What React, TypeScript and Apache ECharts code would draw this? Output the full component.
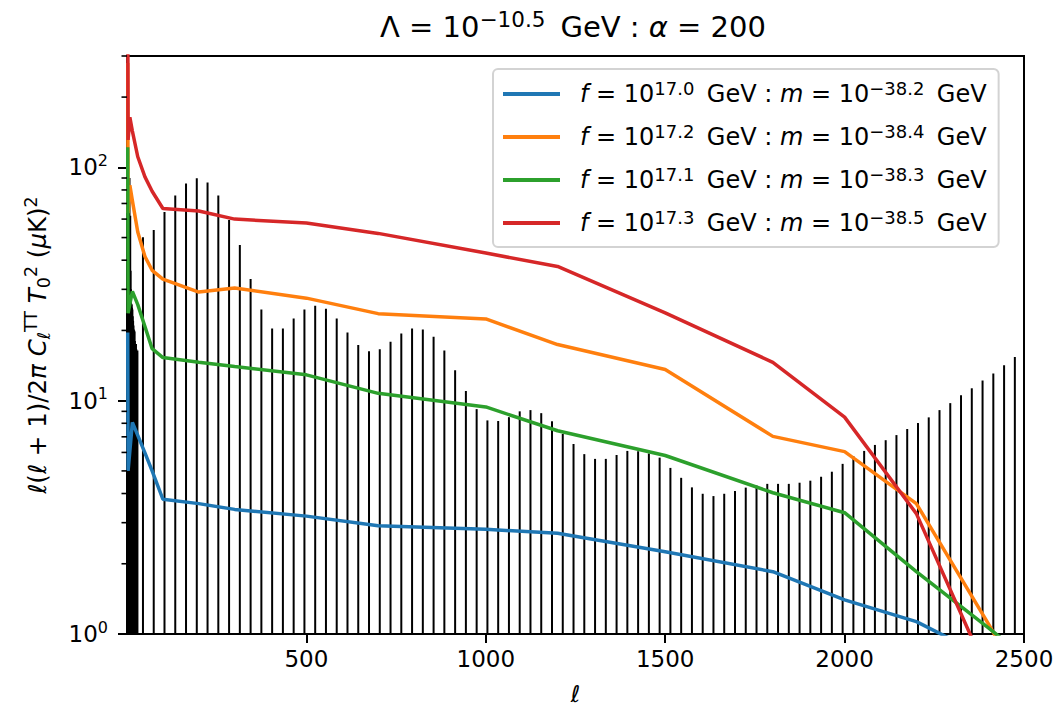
import React, { useEffect, useRef } from "react";
import * as echarts from "echarts";

const FONT = "DejaVu Sans";

// Model curves (shared multipole grid)
const ELL_GRID = [2, 3, 8, 15, 30, 50, 70, 100, 200, 300, 500, 700, 1000, 1200, 1500, 1800, 2000, 2200, 2400, 2500];
const BLUE = [19.6, 5.0, 6.1, 8.07, 7.1, 5.97, 5.0, 3.78, 3.62, 3.42, 3.2, 2.91, 2.81, 2.7, 2.25, 1.85, 1.4, 1.13, 0.79, 0.65];
const ORANGE = [280, 63.7, 83.8, 72, 52.8, 41.5, 36.2, 33.2, 29.2, 30.4, 27.5, 23.6, 22.4, 17.4, 13.6, 7.03, 6.05, 3.62, 1.11, 0.6];
const GREEN = [122, 23.7, 26, 29.4, 25.8, 20.8, 16.7, 15.3, 14.6, 14.0, 12.9, 10.75, 9.4, 7.43, 5.82, 4.03, 3.31, 1.85, 1.066, 0.8];
const RED = [650, 131, 164, 143, 111, 91, 79, 66.6, 65, 60, 57.7, 52.1, 42.9, 37.6, 23.8, 14.6, 8.5, 3.28, 0.67, 0.3];

const CURVE_COLORS = ["#1f77b4", "#ff7f0e", "#2ca02c", "#d62728"];
const LEGEND_F = ["17.0", "17.2", "17.1", "17.3"];
const LEGEND_M = ["\u221238.2", "\u221238.4", "\u221238.3", "\u221238.5"];

// Low-ell unbinned data
const LOWL_ELL = [2, 3, 4, 5, 6, 7, 8, 9, 10, 11, 12, 13, 14, 15, 16, 17, 18, 19, 20, 21, 22, 23, 24, 25, 26, 27, 28, 29];
const LOWL_VAL = [20, 30, 28, 34, 38, 90, 48, 62, 36, 30, 26, 25.8, 25, 24.6, 23, 22, 21, 20.2, 20, 19.8, 18, 17, 16.6, 17.5, 16.6, 16.3, 16, 16.4];

// Binned data
const BIN_ELL = [
  44.5, 74.5, 104.5, 134.5, 164.5, 194.5, 224.5, 254.5, 284.5, 314.5,
  344.5, 374.5, 404.5, 434.5, 464.5, 494.5, 524.5, 554.5, 584.5, 614.5,
  644.5, 674.5, 704.5, 734.5, 764.5, 794.5, 824.5, 854.5, 884.5, 914.5,
  944.5, 974.5, 1004.5, 1034.5, 1064.5, 1094.5, 1124.5, 1154.5, 1184.5, 1214.5,
  1244.5, 1274.5, 1304.5, 1334.5, 1364.5, 1394.5, 1424.5, 1454.5, 1484.5, 1514.5,
  1544.5, 1574.5, 1604.5, 1634.5, 1664.5, 1694.5, 1724.5, 1754.5, 1784.5, 1814.5,
  1844.5, 1874.5, 1904.5, 1934.5, 1964.5, 1994.5, 2024.5, 2054.5, 2084.5, 2114.5,
  2144.5, 2174.5, 2204.5, 2234.5, 2264.5, 2294.5, 2324.5, 2354.5, 2384.5, 2414.5,
  2444.5, 2474.5,
];
const BIN_VAL = [
  50.1, 53.9, 64.3, 75.7, 85.2, 89.8, 86.1, 75.7, 59.4, 46.5,
  33.2, 24.6, 20.4, 20.4, 22.5, 24.6, 25.5, 24.8, 22.5, 19.6,
  17.3, 16.3, 16.6, 17.9, 19.4, 20.4, 20.2, 18.8, 16.4, 13.5,
  11.0, 9.2, 8.23, 8.18, 8.5, 9.0, 9.11, 8.84, 8.16, 7.2,
  6.52, 5.9, 5.63, 5.63, 5.85, 6.09, 6.07, 5.94, 5.7, 5.15,
  4.67, 4.25, 3.99, 3.9, 3.99, 4.1, 4.24, 4.33, 4.4, 4.4,
  4.4, 4.45, 4.54, 4.72, 4.96, 5.36, 5.78, 6.09, 6.46, 6.77,
  7.12, 7.56, 8.02, 8.48, 9.11, 9.76, 10.55, 11.3, 12.2, 13.06,
  14.2, 15.4,
];

const X_MIN = 0;
const X_MAX = 2500;
const X_TICKS = [500, 1000, 1500, 2000, 2500];
const Y_MIN = 1;
const Y_MAX = 300;
const Y_MAJOR = [1, 10, 100];
const Y_MINOR = [2, 3, 4, 5, 6, 7, 8, 9, 20, 30, 40, 50, 60, 70, 80, 90, 200, 300];

export default function App() {
  const ref = useRef<HTMLDivElement>(null);

  useEffect(() => {
    if (!ref.current) return;
    const chart = echarts.init(ref.current, undefined, { renderer: "svg" });

    const curves = [BLUE, ORANGE, GREEN, RED];
    const names = LEGEND_F.map((f, i) => `f = 10^${f} GeV : m = 10^${LEGEND_M[i]} GeV`);
    const richName: Record<string, string> = {};
    names.forEach((n, i) => {
      richName[n] = `{it|f} = 10{sup|${LEGEND_F[i]}}\u2009 GeV : {it|m} = 10{sup|${LEGEND_M[i]}}\u2009 GeV`;
    });

    const barData = [
      ...LOWL_ELL.map((l, i) => [l, LOWL_VAL[i]]),
      ...BIN_ELL.map((l, i) => [l, BIN_VAL[i]]),
    ];

    const supStyle = { fontFamily: FONT, fontSize: 16, lineHeight: 18, verticalAlign: "top", color: "#000" };
    const nameSupStyle = { fontFamily: FONT, fontSize: 17.5, lineHeight: 19, verticalAlign: "top", color: "#000" };
    const nameSubStyle = { fontFamily: FONT, fontSize: 17.5, lineHeight: 19, verticalAlign: "bottom", color: "#000" };
    const nameItStyle = { fontFamily: FONT, fontSize: 24.5, lineHeight: 31, fontStyle: "italic", color: "#000" };
    const legSupStyle = { fontFamily: FONT, fontSize: 18, lineHeight: 19, verticalAlign: "top", color: "#000" };
    const legItStyle = { fontFamily: FONT, fontSize: 24, lineHeight: 30, fontStyle: "italic", color: "#000" };

    const option: any = {
      animation: false,
      backgroundColor: "#ffffff",
      title: {
        text: "\u039b = 10{sup|\u221210.5}\u2009 GeV : {it|\u03b1} = 200",
        left: 568,
        top: 3,
        textAlign: "center",
        textStyle: {
          fontFamily: FONT,
          fontSize: 29,
          fontWeight: "normal",
          color: "#000",
          lineHeight: 38,
          rich: {
            sup: { fontFamily: FONT, fontSize: 21.5, lineHeight: 24, verticalAlign: "top", color: "#000" },
            it: { fontFamily: FONT, fontSize: 29, lineHeight: 38, fontStyle: "italic", color: "#000" },
          },
        },
      },
      legend: {
        orient: "vertical",
        left: 493,
        top: 69,
        data: names,
        icon: "rect",
        itemWidth: 57,
        itemHeight: 4,
        itemGap: 13,
        padding: [10, 12, 9, 10],
        backgroundColor: "rgba(255,255,255,0.8)",
        borderColor: "#d3d3d3",
        borderWidth: 2,
        borderRadius: 5,
        selectedMode: false,
        formatter: (n: string) => richName[n] || n,
        textStyle: {
          fontFamily: FONT,
          fontSize: 24,
          lineHeight: 30,
          color: "#000",
          padding: [0, 0, 0, 15],
          rich: { it: legItStyle, sup: legSupStyle },
        },
      },
      grid: {
        left: 127,
        right: 39,
        top: 56,
        bottom: 77,
        show: true,
        borderColor: "#000",
        borderWidth: 2,
        backgroundColor: "transparent",
      },
      xAxis: {
        type: "value",
        min: X_MIN,
        max: X_MAX,
        interval: 500,
        name: "\u2113",
        nameLocation: "middle",
        nameGap: 46,
        nameTextStyle: { fontFamily: FONT, fontSize: 23, fontStyle: "italic", color: "#000", lineHeight: 28 },
        axisLine: { show: true, lineStyle: { color: "#000", width: 2 } },
        axisTick: { show: true, length: 9, lineStyle: { color: "#000", width: 2 }, customValues: X_TICKS },
        axisLabel: {
          customValues: X_TICKS,
          fontFamily: FONT,
          fontSize: 23,
          color: "#000",
          margin: 13,
          formatter: (v: number) => String(v),
        },
        splitLine: { show: false },
      },
      yAxis: {
        type: "log",
        logBase: 10,
        min: Y_MIN,
        max: Y_MAX,
        name:
          "{it|\u2113}({it|\u2113} + 1)/2{it|\u03c0} {it|C}{sub|\u2113}{sup|TT} {it|T}{sub|0}{sup|2} ({it|\u03bc}K){sup|2}",
        nameLocation: "middle",
        nameRotate: 90,
        nameGap: 74,
        nameTextStyle: {
          fontFamily: FONT,
          fontSize: 24.5,
          lineHeight: 31,
          color: "#000",
          rich: { it: nameItStyle, sup: nameSupStyle, sub: nameSubStyle },
        },
        axisLine: { show: true, lineStyle: { color: "#000", width: 2 } },
        axisTick: { show: true, length: 9, lineStyle: { color: "#000", width: 2 }, customValues: Y_MAJOR },
        axisLabel: {
          customValues: Y_MAJOR,
          fontFamily: FONT,
          fontSize: 23,
          lineHeight: 30,
          color: "#000",
          margin: 19,
          formatter: (v: number) => `10{sup|${Math.round(Math.log10(v))}}`,
          rich: { sup: supStyle },
        },
        splitLine: { show: false },
        minorTick: { show: false },
      },
      series: [
        {
          type: "custom",
          name: "data",
          clip: true,
          z: 1,
          data: barData,
          renderItem: (_p: any, api: any) => {
            const x = api.value(0);
            const y = api.value(1);
            const top = api.coord([x, y]);
            const bot = api.coord([x, Y_MIN]);
            return {
              type: "line",
              shape: { x1: top[0], y1: top[1], x2: bot[0], y2: bot[1] },
              style: { stroke: "#000", lineWidth: 2 },
            };
          },
        },
        {
          type: "custom",
          name: "minorTicks",
          clip: false,
          z: 5,
          data: Y_MINOR.map((v) => [X_MIN, v]),
          renderItem: (_p: any, api: any) => {
            const p = api.coord([X_MIN, api.value(1)]);
            return {
              type: "line",
              shape: { x1: p[0] - 5.5, y1: p[1], x2: p[0], y2: p[1] },
              style: { stroke: "#000", lineWidth: 1.6 },
            };
          },
        },
        ...curves.map((vals, i) => ({
          type: "line",
          name: names[i],
          data: ELL_GRID.map((l, j) => [l, vals[j]]),
          showSymbol: false,
          symbol: "none",
          clip: true,
          z: 3 + i * 0.01,
          color: CURVE_COLORS[i],
          lineStyle: { color: CURVE_COLORS[i], width: 3.5 },
        })),
      ],
    };

    chart.setOption(option);
    return () => chart.dispose();
  }, []);

  return (
    <div
      ref={ref}
      style={{ position: "fixed", left: 0, top: 0, width: 1063, height: 713, background: "#fff" }}
    />
  );
}
